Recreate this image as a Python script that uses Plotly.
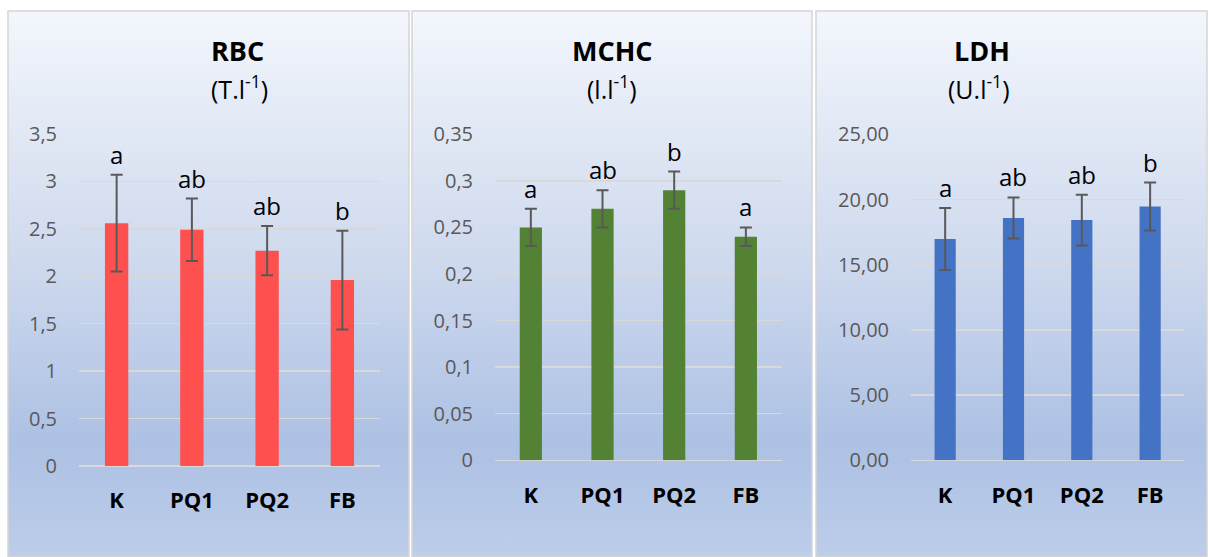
import base64
import plotly.graph_objects as go

W, H = 1208, 557

categories = ["K", "PQ1", "PQ2", "FB"]

rbc_values = [2.56, 2.49, 2.27, 1.96]
rbc_errors = [0.51, 0.33, 0.26, 0.52]
rbc_letters = ["a", "ab", "ab", "b"]

mchc_values = [0.25, 0.27, 0.29, 0.24]
mchc_errors = [0.02, 0.02, 0.02, 0.01]
mchc_letters = ["a", "ab", "b", "a"]

ldh_values = [16.97, 18.58, 18.42, 19.46]
ldh_errors = [2.38, 1.58, 1.95, 1.84]
ldh_letters = ["a", "ab", "ab", "b"]

titles = ["RBC", "MCHC", "LDH"]
units = ["(T.l<sup>-1</sup>)", "(l.l<sup>-1</sup>)", "(U.l<sup>-1</sup>)"]
colors = ["#FF5050", "#548235", "#4472C4"]

FONT = "Open Sans"

# panel boxes in pixels (left, right)
panels = [(8, 409), (412, 812), (816, 1207)]
PANEL_TOP = 11
# plot areas in pixels: (x0, x1, ytop, ybottom)
plots = [(79, 380, 134, 466), (495, 781.7, 134.3, 460.3), (911, 1184.3, 134.3, 460.3)]
ranges = [[0, 3.5], [0, 0.35], [0, 25]]
dticks = [0.5, 0.05, 5]
tickformats = ["", "", ".2f"]

series = [
    (rbc_values, rbc_errors, rbc_letters),
    (mchc_values, mchc_errors, mchc_letters),
    (ldh_values, ldh_errors, ldh_letters),
]

fig = go.Figure()

svg = (
    '<svg xmlns="http://www.w3.org/2000/svg" width="100" height="100" viewBox="0 0 100 100" '
    'preserveAspectRatio="none"><defs><linearGradient id="g" x1="0" y1="0" x2="0" y2="1">'
    '<stop offset="0" stop-color="#f3f6fc"/>'
    '<stop offset="0.45" stop-color="#cfdaee"/>'
    '<stop offset="0.79" stop-color="#adc1e4"/>'
    '<stop offset="1" stop-color="#bdcdea"/>'
    '</linearGradient></defs><rect x="0" y="0" width="100" height="100" fill="url(#g)"/></svg>'
)
src = "data:image/svg+xml;base64," + base64.b64encode(svg.encode()).decode()

images = []
shapes = []
annotations = []

for i, ((vals, errs, letters), color) in enumerate(zip(series, colors)):
    n = "" if i == 0 else str(i + 1)
    xa = "x" + n
    ya = "y" + n
    fig.add_trace(go.Bar(
        x=categories, y=vals, xaxis=xa, yaxis=ya,
        marker=dict(color=color, line=dict(width=0)),
        error_y=dict(type="data", array=errs, visible=True, color="#595959",
                     thickness=2, width=6),
        showlegend=False,
    ))
    x0, x1, yt, yb = plots[i]
    fig.layout["xaxis" + n] = dict(
        domain=[x0 / W, x1 / W], anchor=ya, showgrid=False, zeroline=False,
        showline=False, ticks="outside", ticklen=15, tickcolor="rgba(0,0,0,0)",
        tickfont=dict(family=FONT, size=22, color="#000000", weight="bold"),
        fixedrange=True, automargin=False,
    )
    fig.layout["yaxis" + n] = dict(
        domain=[1 - yb / H, 1 - yt / H], anchor=xa, range=ranges[i],
        dtick=dticks[i], tick0=0, tickformat=tickformats[i],
        showgrid=True, gridcolor="#d9d9d9", gridwidth=1.5,
        zeroline=True, zerolinecolor="#d9d9d9", zerolinewidth=1.5,
        showline=False, ticks="outside", ticklen=17, tickcolor="rgba(0,0,0,0)",
        tickfont=dict(family=FONT, size=20, color="#595959"),
        fixedrange=True, automargin=False,
    )
    # letters above error bars
    for c, v, e, t in zip(categories, vals, errs, letters):
        annotations.append(dict(
            x=c, y=v + e, xref=xa, yref=ya, text=t, showarrow=False,
            yanchor="bottom", yshift=2,
            font=dict(family=FONT, size=24, color="#000000"),
        ))
    pl, pr = panels[i]
    cx = (pl + pr) / 2 / W
    annotations.append(dict(
        x=cx, y=1 - 50 / H, xref="paper", yref="paper", text="<b>" + titles[i] + "</b>",
        showarrow=False, yanchor="middle",
        font=dict(family=FONT, size=27, color="#000000"),
    ))
    annotations.append(dict(
        x=cx, y=1 - 88 / H, xref="paper", yref="paper", text=units[i],
        showarrow=False, yanchor="middle",
        font=dict(family=FONT, size=25, color="#000000"),
    ))
    images.append(dict(
        source=src, xref="paper", yref="paper", x=pl / W, y=1 - PANEL_TOP / H,
        sizex=(pr - pl) / W, sizey=(H - PANEL_TOP) / H,
        xanchor="left", yanchor="top", sizing="stretch", layer="below",
    ))
    shapes.append(dict(
        type="rect", xref="paper", yref="paper", x0=pl / W, x1=pr / W,
        y0=0, y1=1 - PANEL_TOP / H, line=dict(color="#d5d5d5", width=1.5),
        fillcolor="rgba(0,0,0,0)", layer="above",
    ))

fig.update_layout(
    width=W, height=H, margin=dict(l=0, r=0, t=0, b=0, pad=0, autoexpand=False),
    paper_bgcolor="#ffffff", plot_bgcolor="rgba(0,0,0,0)",
    separators=", ", bargap=0.69, showlegend=False,
    images=images, shapes=shapes, annotations=annotations,
    font=dict(family=FONT),
)

fig.write_html(
    "out.html",
    config={"displayModeBar": False, "staticPlot": True},
    post_script="document.body.style.margin='0';document.body.style.overflow='hidden';",
)
